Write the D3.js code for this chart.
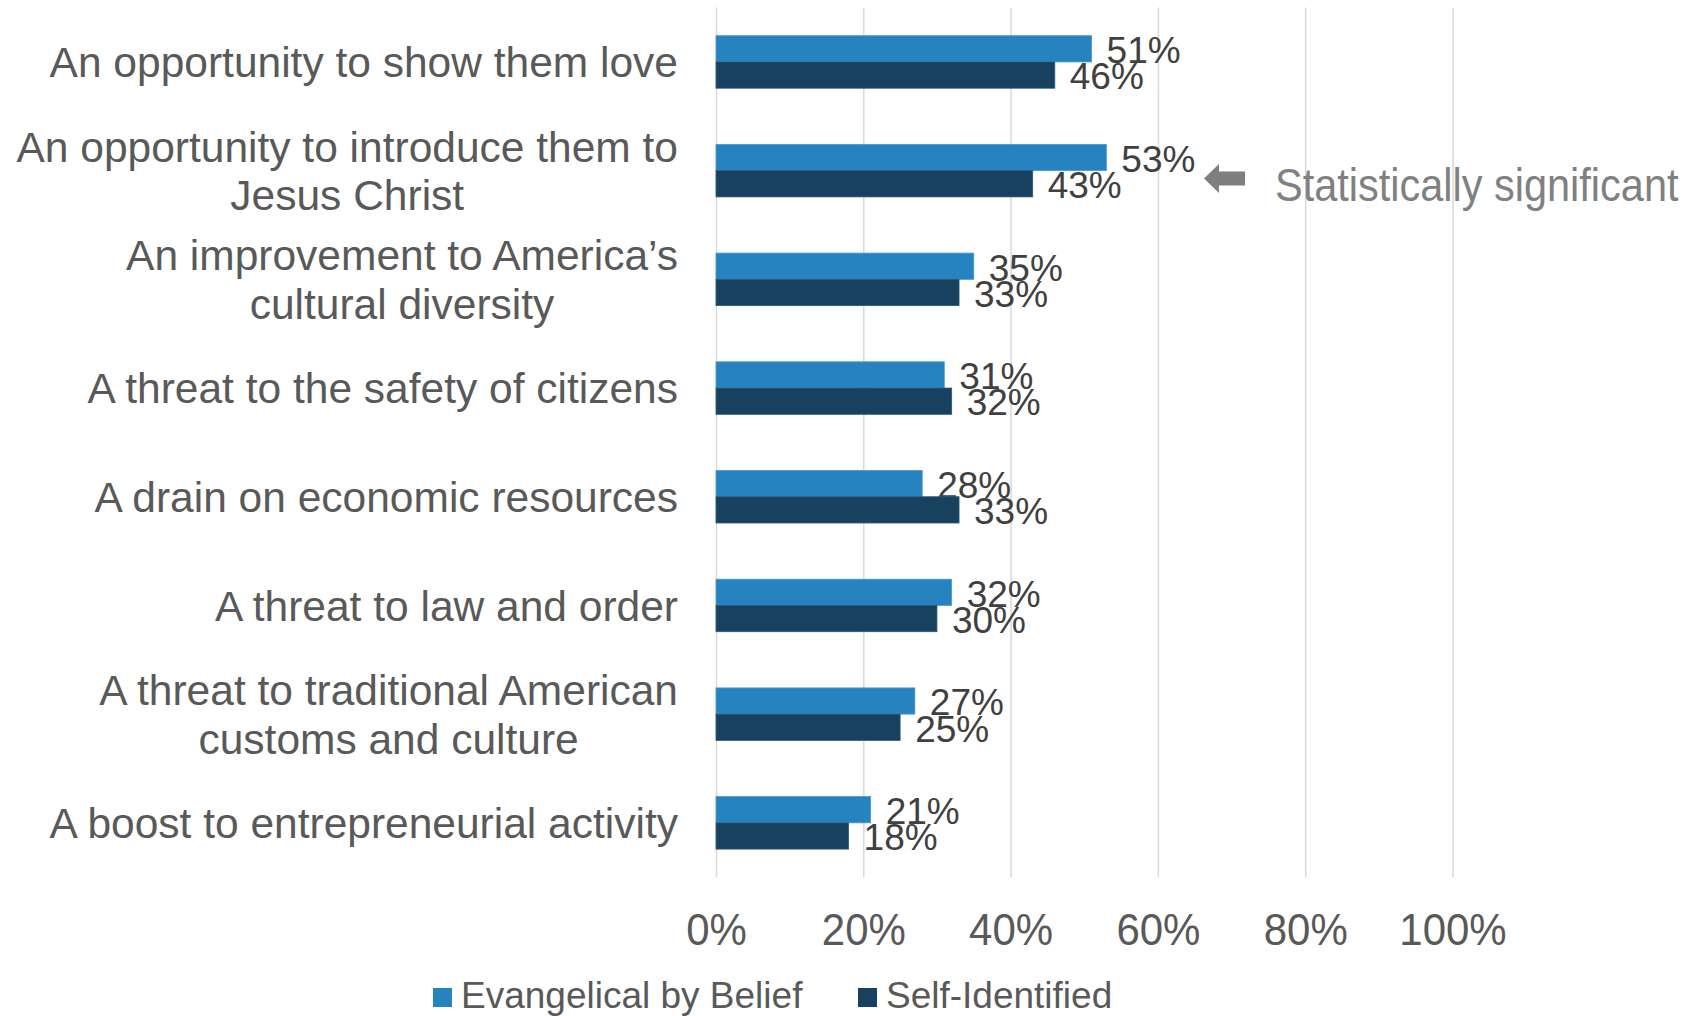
<!DOCTYPE html>
<html>
<head>
<meta charset="utf-8">
<script src="https://cdn.jsdelivr.net/npm/d3@7/dist/d3.min.js"></script>
<style>
  html, body { margin: 0; padding: 0; background: #ffffff; }
  svg { display: block; }
  text { font-family: "Liberation Sans", Arial, sans-serif; }
</style>
</head>
<body>
<svg id="chart" width="1699" height="1016"></svg>
<script>
// ---- data ----
const categories = [
  ["An opportunity to show them love"],
  ["An opportunity to introduce them to", "Jesus Christ"],
  ["An improvement to America\u2019s", "cultural diversity"],
  ["A threat to the safety of citizens"],
  ["A drain on economic resources"],
  ["A threat to law and order"],
  ["A threat to traditional American", "customs and culture"],
  ["A boost to entrepreneurial activity"]
];
const seriesNames = ["Evangelical by Belief", "Self-Identified"];
const evangelicalByBelief = [51, 53, 35, 31, 28, 32, 27, 21];
const selfIdentified = [46, 43, 33, 32, 33, 30, 25, 18];
const tickValues = [0, 20, 40, 60, 80, 100];
const annotationText = "Statistically significant";
const annotatedIndex = 1;

// ---- layout ----
const colors = ["#2683C0", "#17415F"];
const svg = d3.select("#chart");

const x = d3.scaleLinear().domain([0, 100]).range([716, 1452.5]);
const yBand = d3.scaleBand().domain(d3.range(categories.length)).range([7.6, 877.2]).paddingInner(0).paddingOuter(0);
const barH = yBand.bandwidth() * 0.2415;

// gridlines
const grid = svg.append("g").attr("transform", `translate(0,${yBand.range()[1]})`)
  .call(d3.axisBottom(x).tickValues(tickValues).tickSize(-(yBand.range()[1] - yBand.range()[0])).tickFormat(""));
grid.select(".domain").remove();
grid.selectAll(".tick line").attr("stroke", "#d9d9d9").attr("stroke-width", 1.5);

// tick labels
const axis = svg.append("g").attr("transform", `translate(0,945)`)
  .call(d3.axisBottom(x).tickValues(tickValues).tickSize(0).tickPadding(0).tickFormat(d => d + "%"));
axis.select(".domain").remove();
axis.selectAll(".tick text")
  .attr("y", 0).attr("dy", 0)
  .attr("transform", "scale(1,1.06)")
  .attr("fill", "#595959")
  .style("font-size", "42px")
  .style("font-family", "'Liberation Sans', Arial, sans-serif");

// bars
const series = [evangelicalByBelief, selfIdentified];
series.forEach((vals, si) => {
  const g = svg.append("g");
  g.selectAll("rect").data(vals).join("rect")
    .attr("x", x(0))
    .attr("y", (d, i) => yBand(i) + yBand.bandwidth() / 2 - barH + si * barH)
    .attr("width", d => x(d) - x(0))
    .attr("height", barH)
    .attr("fill", colors[si])
    .attr("stroke", si === 0 ? "#4a9bd0" : "#2d5877")
    .attr("stroke-width", 0.8);
  g.selectAll("text").data(vals).join("text")
    .attr("x", d => x(d) + 15)
    .attr("y", (d, i) => yBand(i) + yBand.bandwidth() / 2 - barH + si * barH + barH / 2 + 1)
    .attr("dy", "0.36em")
    .attr("fill", "#404040")
    .style("font-size", "37px")
    .text(d => d + "%");
});

// category labels
const labelRight = 678;
const lineH = 48.5;
categories.forEach((lines, i) => {
  const cy = yBand(i) + yBand.bandwidth() / 2;
  const g = svg.append("g");
  const texts = lines.map((ln, k) => g.append("text")
    .attr("fill", "#595959")
    .style("font-size", "42.5px")
    .attr("y", cy + (k - (lines.length - 1) / 2) * lineH)
    .attr("dy", "0.36em")
    .text(ln));
  const maxW = d3.max(texts, t => t.node().getComputedTextLength());
  texts.forEach(t => t.attr("text-anchor", "middle").attr("x", labelRight - maxW / 2));
});

// annotation arrow + text
const ay = yBand(annotatedIndex) + yBand.bandwidth() / 2 + 7.8;
svg.append("path")
  .attr("d", `M1204,${ay} L1219,${ay - 14.5} L1219,${ay - 7} L1245,${ay - 7} L1245,${ay + 7} L1219,${ay + 7} L1219,${ay + 14.5} Z`)
  .attr("fill", "#7f7f7f");
svg.append("text")
  .attr("transform", `translate(1275,${ay + 22.5}) scale(1,1.1)`)
  .attr("fill", "#808080")
  .style("font-size", "41.5px")
  .text(annotationText);

// legend
const legendItems = [{x: 433, name: seriesNames[0], c: colors[0]}, {x: 858, name: seriesNames[1], c: colors[1]}];
const lg = svg.append("g");
legendItems.forEach(it => {
  lg.append("rect").attr("x", it.x).attr("y", 988).attr("width", 19).attr("height", 19).attr("fill", it.c);
  lg.append("text").attr("x", it.x + 28).attr("y", 1008)
    .attr("fill", "#595959").style("font-size", "37px").text(it.name);
});
</script>
</body>
</html>
